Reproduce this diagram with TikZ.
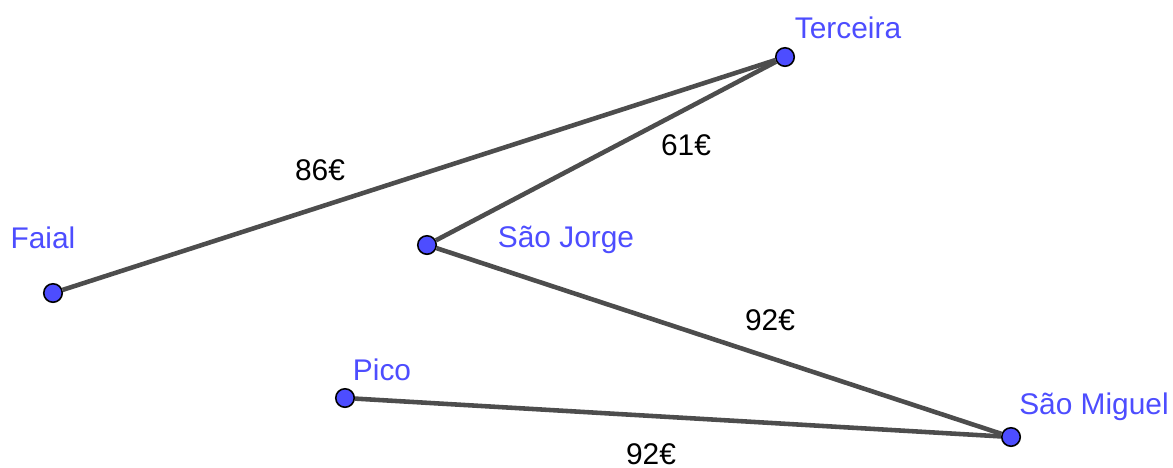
\documentclass[tikz,border=0pt]{standalone}
\usepackage{fontspec}
\setmainfont{Liberation Sans}
\usepackage{tikz}

\definecolor{ptblue}{HTML}{4D4DFF}
\definecolor{edgegray}{HTML}{4D4D4D}

\begin{document}
\begin{tikzpicture}[x=0.02cm,y=-0.02cm]
  \tikzstyle{island}=[circle,draw=black,line width=0.9pt,fill=ptblue,minimum size=0.37cm,inner sep=0pt]
  \tikzstyle{islelabel}=[text=ptblue,font=\fontsize{17}{19}\selectfont]
  \tikzstyle{cost}=[text=black,font=\fontsize{17}{19}\selectfont]
  \tikzstyle{route}=[draw=edgegray,line width=2.6pt]
  \useasboundingbox (0,0) rectangle (1173,467);
  \node[island] (I_T) at (785,57)  {};
  \node[island] (I_F) at (53,293)  {};
  \node[island] (I_J) at (427,245) {};
  \node[island] (I_P) at (345,398) {};
  \node[island] (I_M) at (1011,437) {};
  \node[islelabel] (N_T) at (848,28)  {Terceira};
  \node[islelabel] (N_F) at (43,238)  {Faial};
  \node[islelabel] (N_J) at (566,240) {São Jorge};
  \node[islelabel] (N_P) at (382,370) {Pico};
  \node[islelabel] (N_M) at (1094,407) {São Miguel};
  \draw[route] (I_F) -- (I_T);
  \draw[route] (I_J) -- (I_T);
  \draw[route] (I_J) -- (I_M);
  \draw[route] (I_P) -- (I_M);
  \node[cost] (C_FT) at (320,170) {86€};
  \node[cost] (C_JT) at (686,145) {61€};
  \node[cost] (C_JM) at (770,320) {92€};
  \node[cost] (C_PM) at (651,454) {92€};
\end{tikzpicture}
\end{document}
